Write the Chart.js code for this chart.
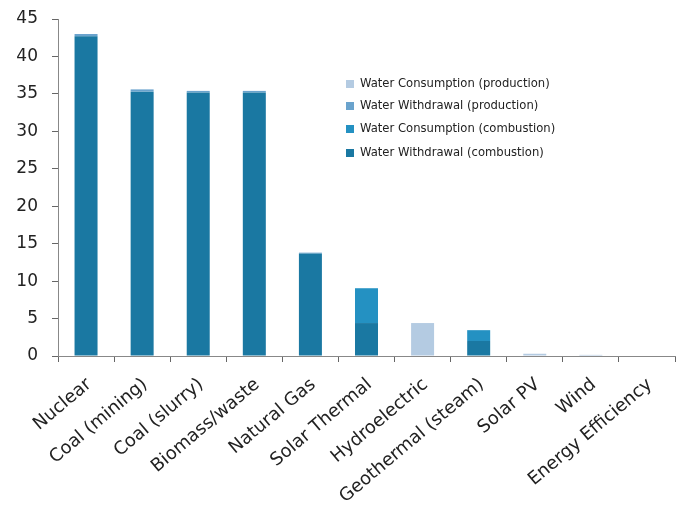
<!DOCTYPE html>
<html>
<head>
<meta charset="utf-8">
<script src="https://cdn.jsdelivr.net/npm/chart.js@4.4.1/dist/chart.umd.min.js"></script>
<style>
html,body{margin:0;padding:0;background:#fff;}
#wrap{width:678px;height:510px;position:relative;}
</style>
</head>
<body>
<div id="wrap"><canvas id="c" width="678" height="510"></canvas></div>
<script>
const categories = ["Nuclear","Coal (mining)","Coal (slurry)","Biomass/waste","Natural Gas","Solar Thermal","Hydroelectric","Geothermal (steam)","Solar PV","Wind","Energy Efficiency"];
const withdrawalCombustion = [42.7, 35.3, 35.2, 35.2, 13.7, 4.4, 0, 2.0, 0, 0, 0];
const consumptionCombustion = [0, 0, 0, 0, 0, 4.65, 0, 1.45, 0, 0, 0];
const withdrawalProduction = [0.3, 0.3, 0.2, 0.2, 0.1, 0, 0, 0, 0, 0, 0];
const consumptionProduction = [0, 0, 0, 0, 0, 0, 4.4, 0, 0.3, 0.15, 0];
const yTicks = [0,5,10,15,20,25,30,35,40,45];

const colors = {
  cp: '#b4cbe2',
  wp: '#6aa3cd',
  cc: '#2491c2',
  wc: '#1a78a2'
};

const legendOrder = [
  {label:'Water Consumption (production)', color: colors.cp},
  {label:'Water Withdrawal (production)', color: colors.wp},
  {label:'Water Consumption (combustion)', color: colors.cc},
  {label:'Water Withdrawal (combustion)', color: colors.wc}
];

const FONT = '"DejaVu Sans", "Liberation Sans", Arial, sans-serif';

const customLegend = {
  id:'customLegend',
  afterDraw(chart){
    const ctx = chart.ctx;
    ctx.save();
    ctx.font = '11.6px ' + FONT;
    ctx.textBaseline = 'middle';
    const ys = [84, 106, 129, 153];
    legendOrder.forEach((it,i)=>{
      ctx.fillStyle = it.color;
      ctx.fillRect(346, ys[i]-4, 8, 8);
      ctx.fillStyle = '#222';
      ctx.fillText(it.label, 360, ys[i]);
    });
    ctx.restore();
  }
};

const common = {barPercentage:0.41, categoryPercentage:1.0, borderWidth:0};

new Chart(document.getElementById('c'), {
  type:'bar',
  data:{
    labels: categories,
    datasets:[
      Object.assign({label:'Water Withdrawal (combustion)', data:withdrawalCombustion, backgroundColor:colors.wc}, common),
      Object.assign({label:'Water Consumption (combustion)', data:consumptionCombustion, backgroundColor:colors.cc}, common),
      Object.assign({label:'Water Withdrawal (production)', data:withdrawalProduction, backgroundColor:colors.wp}, common),
      Object.assign({label:'Water Consumption (production)', data:consumptionProduction, backgroundColor:colors.cp}, common)
    ]
  },
  options:{
    responsive:false,
    animation:false,
    layout:{padding:{left:0,right:3,top:19,bottom:0}},
    plugins:{legend:{display:false}, tooltip:{enabled:false}},
    scales:{
      x:{
        stacked:true,
        offset:true,
        afterFit(axis){ axis.height = 154; },
        grid:{display:true, drawOnChartArea:false, drawTicks:true, tickLength:6, color:'#666', offset:true},
        border:{display:true, color:'#888', width:1},
        ticks:{color:'#222', font:{family:FONT, size:18}, maxRotation:40, minRotation:40, autoSkip:false, padding:12, labelOffset:3}
      },
      y:{
        stacked:true,
        min:0, max:45,
        afterFit(axis){ axis.width = 58; axis.paddingTop = 0; axis.paddingBottom = 0; },
        afterBuildTicks(axis){ axis.ticks = yTicks.map(v=>({value:v})); },
        grid:{display:true, drawOnChartArea:false, drawTicks:true, tickLength:6, color:'#666'},
        border:{display:true, color:'#888', width:1},
        ticks:{color:'#222', font:{family:FONT, size:17}, padding:14}
      }
    }
  },
  plugins:[customLegend]
});
</script>
</body>
</html>
